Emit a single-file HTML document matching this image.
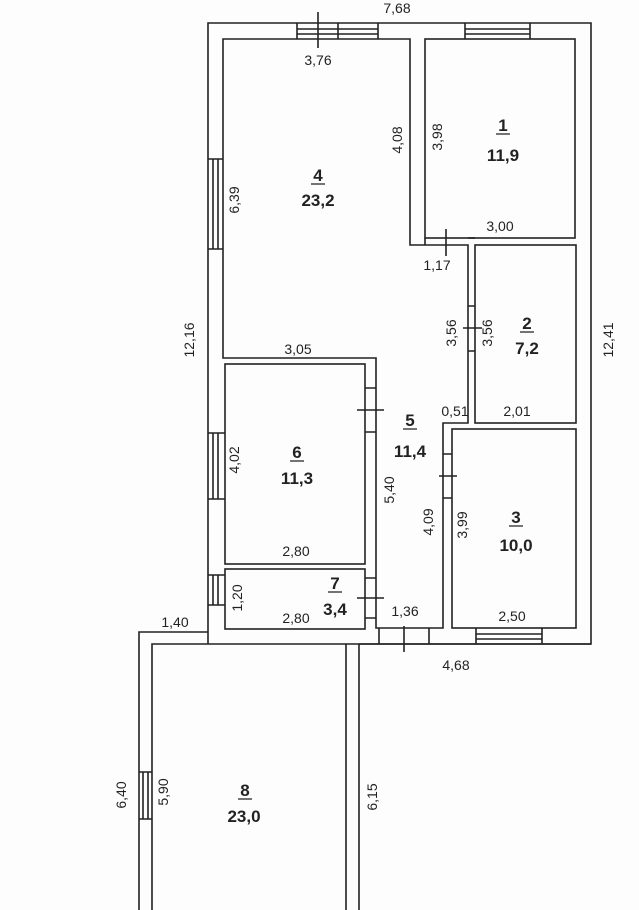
<!DOCTYPE html>
<html><head><meta charset="utf-8"><style>
html,body{margin:0;padding:0;background:#fff;}
svg{display:block;}
text{font-family:"Liberation Sans",sans-serif;fill:#222;}
.d{font-size:14px;}
.a{font-size:17px;font-weight:bold;}
</style></head><body>
<svg width="639" height="910" viewBox="0 0 639 910" xmlns="http://www.w3.org/2000/svg">
<rect width="639" height="910" fill="#fdfdfd"/>
<g fill="none" stroke="#222" stroke-width="1.6">
<!-- outer main -->
<path d="M208,644 L208,23 L591,23 L591,644 L359,644"/>
<!-- room 4 -->
<path d="M223,358 L223,39 L410,39 L410,245 L468,245 L468,423 L443,423 L443,628 L376,628 L376,358 Z"/>
<!-- room 1 -->
<rect x="425" y="39" width="150" height="199"/>
<path d="M425,238 L425,245"/>
<!-- wall line 1/2 -->
<path d="M468,238 L475,238"/>
<!-- room 2 -->
<rect x="475" y="245" width="101" height="178"/>
<!-- room 3 -->
<rect x="452" y="429" width="124" height="199"/>
<!-- room 6 -->
<rect x="225" y="364" width="140" height="200"/>
<!-- room 7 -->
<rect x="225" y="569" width="140" height="60"/>
<!-- corridor bottom door posts -->
<path d="M379,628 L379,644 M429,628 L429,644"/>
<!-- room 8 -->
<path d="M139,910 L139,632 L208,632"/>
<path d="M152,910 L152,644 L591,644"/>
<path d="M346,644 L346,910 M359,644 L359,910"/>
<!-- windows top -->
<path d="M297,23 L297,39 M338,23 L338,39 M378,23 L378,39 M297,29 L378,29 M297,34 L378,34"/>
<path d="M465,23 L465,39 M530,23 L530,39 M465,29 L530,29 M465,34 L530,34"/>
<!-- left windows -->
<path d="M208,159 L223,159 M208,249 L223,249 M213,159 L213,249 M218,159 L218,249"/>
<path d="M208,433 L225,433 M208,499 L225,499 M213,433 L213,499 M218,433 L218,499"/>
<path d="M208,575 L225,575 M208,605 L225,605 M213,575 L213,605 M218,575 L218,605"/>
<path d="M139,772 L152,772 M139,819 L152,819 M143,772 L143,819 M148,772 L148,819"/>
<!-- bottom window room3 -->
<path d="M476,628 L476,644 M542,628 L542,644 M476,634 L542,634 M476,639 L542,639"/>
<!-- doors -->
<path d="M365,388 L376,388 M365,432 L376,432"/>
<path d="M365,578 L376,578 M365,618 L376,618"/>
<path d="M468,306 L475,306 M468,351 L475,351"/>
<path d="M443,454 L452,454 M443,498 L452,498"/>
<!-- ticks -->
<path d="M318,12 L318,48"/>
<path d="M446,229 L446,256"/>
<path d="M463,328 L482,328"/>
<path d="M357,410 L384,410"/>
<path d="M439,476 L457,476"/>
<path d="M357,598 L384,598"/>
<path d="M404,626 L404,652"/>
</g>
<g class="d" text-anchor="middle">
<text x="397" y="13">7,68</text>
<text x="318" y="65">3,76</text>
<text x="500" y="231">3,00</text>
<text x="437" y="270">1,17</text>
<text x="298" y="354">3,05</text>
<text x="455" y="416">0,51</text>
<text x="517" y="416">2,01</text>
<text x="296" y="556">2,80</text>
<text x="296" y="623">2,80</text>
<text x="405" y="616">1,36</text>
<text x="512" y="621">2,50</text>
<text x="175" y="627">1,40</text>
<text x="456" y="670">4,68</text>
<text transform="translate(402,140) rotate(-90)">4,08</text>
<text transform="translate(442,137) rotate(-90)">3,98</text>
<text transform="translate(239,200) rotate(-90)">6,39</text>
<text transform="translate(194,340) rotate(-90)">12,16</text>
<text transform="translate(456,333) rotate(-90)">3,56</text>
<text transform="translate(492,333) rotate(-90)">3,56</text>
<text transform="translate(613,340) rotate(-90)">12,41</text>
<text transform="translate(239,460) rotate(-90)">4,02</text>
<text transform="translate(394,490) rotate(-90)">5,40</text>
<text transform="translate(433,522) rotate(-90)">4,09</text>
<text transform="translate(467,525) rotate(-90)">3,99</text>
<text transform="translate(242,598) rotate(-90)">1,20</text>
<text transform="translate(126,795) rotate(-90)">6,40</text>
<text transform="translate(168,792) rotate(-90)">5,90</text>
<text transform="translate(377,797) rotate(-90)">6,15</text>
</g>
<g class="a" text-anchor="middle">
<text x="503" y="131">1</text><text x="503" y="161">11,9</text>
<text x="318" y="181">4</text><text x="318" y="206">23,2</text>
<text x="527" y="329">2</text><text x="527" y="354">7,2</text>
<text x="410" y="426">5</text><text x="410" y="457">11,4</text>
<text x="297" y="458">6</text><text x="297" y="484">11,3</text>
<text x="516" y="523">3</text><text x="516" y="551">10,0</text>
<text x="335" y="589">7</text><text x="335" y="615">3,4</text>
<text x="245" y="796">8</text><text x="244" y="822">23,0</text>
</g>
<g stroke="#222" stroke-width="1.2">
<path d="M496,134 L510,134 M311,184 L325,184 M520,332 L534,332 M403,429 L417,429 M290,461 L304,461 M509,526 L523,526 M328,592 L342,592 M238,799 L252,799"/>
</g>
</svg>
</body></html>
